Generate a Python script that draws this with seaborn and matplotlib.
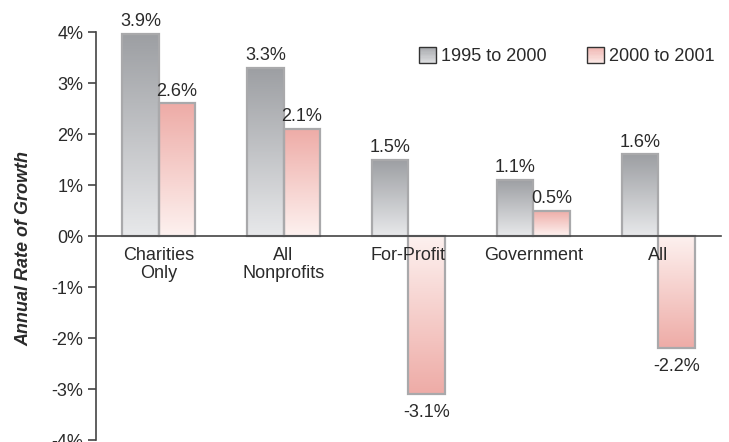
import numpy as np
import pandas as pd
import matplotlib
matplotlib.use("Agg")
import matplotlib.pyplot as plt
import seaborn as sns
from matplotlib.colors import LinearSegmentedColormap
from matplotlib.patches import Rectangle
from matplotlib.legend_handler import HandlerBase
from matplotlib import font_manager

# datos
categorias = ["Charities\nOnly", "All\nNonprofits", "For-Profit", "Government", "All"]
periodos = ["1995 to 2000", "2000 to 2001"]
crec_95_00 = [3.97, 3.3, 1.5, 1.1, 1.6]
crec_00_01 = [2.6, 2.1, -3.1, 0.5, -2.2]
etiq_95_00 = ["3.9%", "3.3%", "1.5%", "1.1%", "1.6%"]
etiq_00_01 = ["2.6%", "2.1%", "-3.1%", "0.5%", "-2.2%"]
yticks = [-4, -3, -2, -1, 0, 1, 2, 3, 4]
ytick_labels = ["-4%", "-3%", "-2%", "-1%", "0%", "1%", "2%", "3%", "4%"]

df = pd.DataFrame({
    "Sector": categorias * 2,
    "Periodo": [periodos[0]] * 5 + [periodos[1]] * 5,
    "Tasa": crec_95_00 + crec_00_01,
})

sns.set_style("white")
nombres = {f.name for f in font_manager.fontManager.ttflist}
if "Liberation Sans Narrow" in nombres:
    plt.rcParams["font.family"] = ["Liberation Sans Narrow", "DejaVu Sans"]
    fs = 15
else:
    plt.rcParams["font.family"] = ["Liberation Sans", "DejaVu Sans"]
    fs = 13
texto = "#2a2a2a"

# gradientes (claro en el cero, oscuro en el extremo)
cmap_gris = LinearSegmentedColormap.from_list("gris", ["#e7e8ea", "#9d9fa3"])
cmap_rosa = LinearSegmentedColormap.from_list("rosa", ["#fdf1ef", "#eeaca7"])
borde = "#a9a9ab"


class HandlerGradiente(HandlerBase):
    def __init__(self, cmap):
        super().__init__()
        self.cmap = cmap

    def create_artists(self, legend, orig_handle, xdescent, ydescent, width, height, fontsize, trans):
        arts = []
        n = 12
        for i in range(n):
            r = Rectangle((-xdescent, -ydescent + height * i / n), width, height / n + 0.3,
                          facecolor=self.cmap(0.15 + 0.7 * (i + 0.5) / n), edgecolor="none",
                          transform=trans)
            arts.append(r)
        arts.append(Rectangle((-xdescent, -ydescent), width, height, facecolor="none",
                              edgecolor="#333333", linewidth=1.0, transform=trans))
        return arts


fig = plt.figure(figsize=(7.29, 4.42), dpi=100)
ax = fig.add_axes([0.1317, 0.0045, 0.8573, 0.9231])

sns.barplot(data=df, x="Sector", y="Tasa", hue="Periodo", palette=["#c0c1c4", "#f5cfcb"],
            width=0.58, gap=0, ax=ax, legend=False, edgecolor=borde, linewidth=1.6)

for cont, cmap, etiquetas in zip(ax.containers, [cmap_gris, cmap_rosa], [etiq_95_00, etiq_00_01]):
    for barra, et in zip(cont, etiquetas):
        x0 = barra.get_x()
        w = barra.get_width()
        h = barra.get_height()
        grad = np.linspace(0, 1, 64).reshape(-1, 1)
        if h < 0:
            grad = grad[::-1]
        y0, y1 = min(0, h), max(0, h)
        img = ax.imshow(grad, cmap=cmap, extent=(x0, x0 + w, y0, y1), origin="lower",
                        aspect="auto", zorder=1, interpolation="bilinear")
        img.set_clip_path(barra)
        barra.set_facecolor("none")
        barra.set_zorder(2)
        xc = x0 + w / 2
        if h >= 0:
            ax.text(xc, h + 0.07, et, ha="center", va="bottom", fontsize=fs, color=texto)
        else:
            ax.text(xc, h - 0.2, et, ha="center", va="top", fontsize=fs, color=texto)

ax.set_xlim(-0.5, 4.5)
ax.set_ylim(-4, 4)
ax.set_yticks(yticks)
ax.set_yticklabels(ytick_labels)
ax.set_axisbelow(False)

# eje x en el cero, marcas entre categorias
ax.spines["bottom"].set_position(("data", 0))
ax.spines["top"].set_visible(False)
ax.spines["right"].set_visible(False)
for s in ["left", "bottom"]:
    ax.spines[s].set_color("#444444")
    ax.spines[s].set_linewidth(1.2)
ax.set_xticks(range(5))
ax.set_xticklabels(categorias, fontsize=fs, color=texto, linespacing=1.1)
ax.set_xticks(np.arange(-0.5, 5, 1), minor=True)
ax.tick_params(axis="x", which="major", length=0, pad=8)
ax.tick_params(axis="x", which="minor", length=6, width=1.2, color="#444444", direction="out")
ax.tick_params(axis="y", length=6, width=1.2, color="#444444", direction="out",
               labelsize=fs, labelcolor=texto, pad=3, left=True)

ax.set_xlabel("")
ax.set_ylabel("Annual Rate of Growth", fontsize=fs, fontweight="bold", fontstyle="italic",
              color=texto)
ax.yaxis.set_label_coords(-0.102, 0.47)

handles = [Rectangle((0, 0), 1, 1), Rectangle((0, 0), 1, 1)]
ax.legend(handles, periodos, loc="upper right", bbox_to_anchor=(1.003, 0.93),
          bbox_transform=fig.transFigure, ncol=2, frameon=False, fontsize=fs,
          handlelength=0.95, handleheight=0.95, handletextpad=0.3, columnspacing=2.2,
          labelcolor=texto,
          handler_map={handles[0]: HandlerGradiente(cmap_gris), handles[1]: HandlerGradiente(cmap_rosa)})

fig.savefig("out.png", dpi=100)
